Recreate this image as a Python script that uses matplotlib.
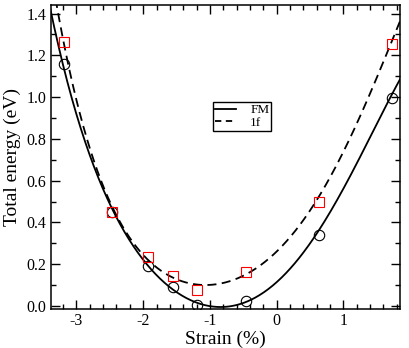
import numpy as np
import matplotlib
matplotlib.use("Agg")
import matplotlib.pyplot as plt
from matplotlib.ticker import MultipleLocator, FormatStrFormatter

# measured data points
strain = [-3.19, -2.46, -1.93, -1.56, -1.20, -0.46, 0.64, 1.73]
e_fm = [1.160, 0.452, 0.190, 0.093, 0.006, 0.024, 0.342, 0.996]
e_1f = [1.263, 0.452, 0.234, 0.145, 0.078, 0.161, 0.500, 1.255]

curve_x_fm = [-3.38, -3.20, -2.745, -2.48, -2.147, -1.92, -1.548, -1.20, -0.92,
              -0.45, 0.0, 0.50, 1.10, 1.446, 1.737, 1.846]
curve_fm = [1.395, 1.160, 0.698, 0.456, 0.268, 0.191, 0.092, 0.010, 0.005,
            0.025, 0.109, 0.284, 0.635, 0.842, 0.998, 1.094]
curve_x_1f = [-3.30, -3.19, -2.99, -2.745, -2.48, -1.92, -1.647, -1.148, -0.45,
              0.0, 0.50, 0.64, 1.10, 1.497, 1.737, 1.835]
curve_1f = [1.430, 1.270, 0.985, 0.714, 0.456, 0.228, 0.148, 0.099, 0.164,
            0.268, 0.443, 0.507, 0.826, 1.097, 1.256, 1.360]

plt.rcParams['font.family'] = ['Liberation Serif', 'DejaVu Serif']
plt.rcParams['axes.unicode_minus'] = False

fig = plt.figure(figsize=(4.09, 3.48), dpi=100)
ax = fig.add_axes([0.125, 0.1135, 0.853, 0.8715])

xs = np.linspace(-3.40, 1.87, 400)
smooth_fm = np.polyval(np.polyfit(curve_x_fm, curve_fm, 5), xs)
smooth_1f = np.polyval(np.polyfit(curve_x_1f, curve_1f, 5), xs)

ax.plot(xs, smooth_fm, color='black', lw=1.3, label='FM')
ax.plot(xs, smooth_1f, color='black', lw=1.3, ls=(0, (5, 3)), label='1f')
ax.plot(strain, e_fm, 'o', ms=7.5, mfc='none', mec='black', mew=0.8)
ax.plot(strain, e_1f, 's', ms=6.5, mfc='none', mec='red', mew=0.8)

ax.set_xlim(-3.38, 1.85)
ax.set_ylim(-0.012, 1.44)
ax.xaxis.set_major_locator(MultipleLocator(1))
ax.xaxis.set_minor_locator(MultipleLocator(0.2))
ax.yaxis.set_major_locator(MultipleLocator(0.2))
ax.yaxis.set_minor_locator(MultipleLocator(0.1))
ax.yaxis.set_major_formatter(FormatStrFormatter('%.1f'))
ax.tick_params(which='both', direction='in', top=True, right=True, labelsize=11.5, width=1)
ax.tick_params(which='major', length=6.5)
ax.tick_params(which='minor', length=3.5)
for s in ax.spines.values():
    s.set_linewidth(1.1)
ax.set_xlabel('Strain (%)', fontsize=14, labelpad=1)
ax.set_ylabel('Total energy (eV)', fontsize=14, labelpad=4)

leg = ax.legend(loc='upper left', bbox_to_anchor=(0.463, 0.68), fontsize=9.5,
                frameon=True, fancybox=False, edgecolor='black', framealpha=1,
                handlelength=1.6, borderpad=0.15, labelspacing=0.0, handletextpad=1.1,
                borderaxespad=0)
leg.get_frame().set_linewidth(1.0)
leg.get_lines()[1].set_linestyle((0, (3.5, 2.5)))

fig.savefig('out.png', dpi=100)
